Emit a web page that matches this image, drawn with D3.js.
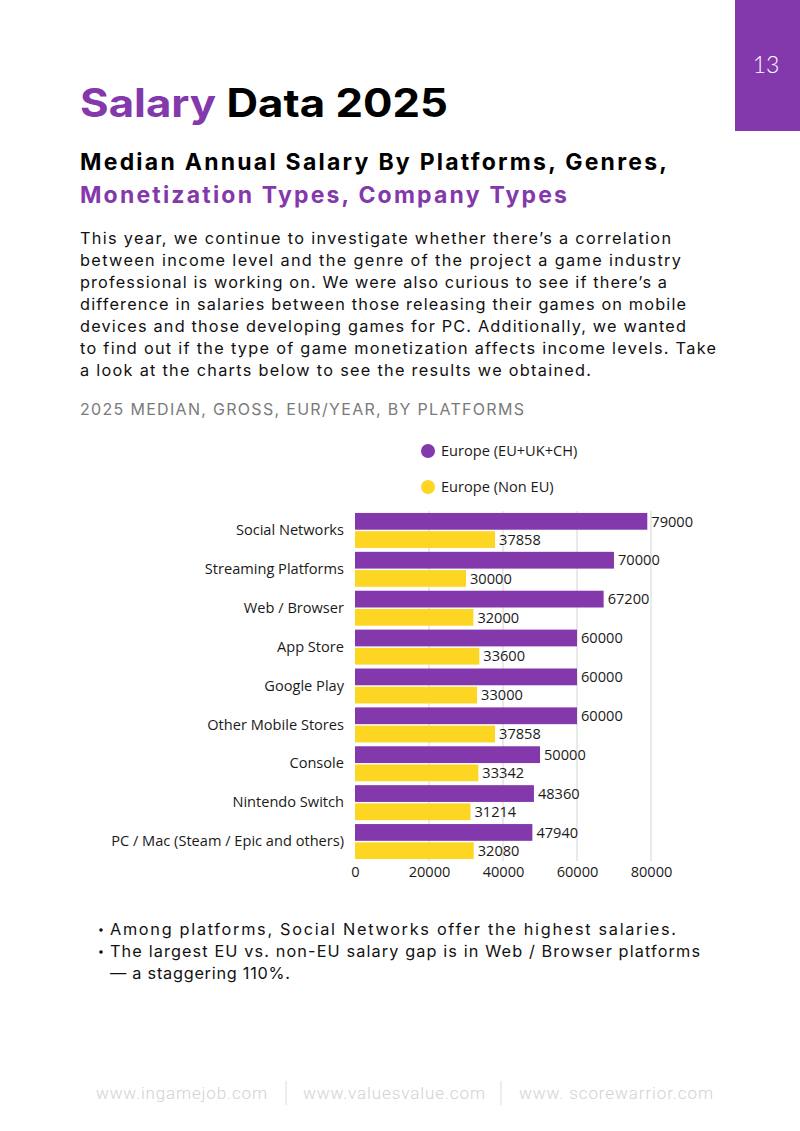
<!DOCTYPE html>
<html><head><meta charset="utf-8">
<script src="https://cdn.jsdelivr.net/npm/d3@7"></script>
<style>
html,body{margin:0;padding:0;background:#fff;}
svg{display:block;}
</style></head>
<body>
<svg id="page" width="800" height="1131"></svg>
<script>
const categories = ["Social Networks","Streaming Platforms","Web / Browser","App Store","Google Play","Other Mobile Stores","Console","Nintendo Switch","PC / Mac (Steam / Epic and others)"];
const seriesNames = ["Europe (EU+UK+CH)","Europe (Non EU)"];
const euValues = [79000,70000,67200,60000,60000,60000,50000,48360,47940];
const nonEuValues = [37858,30000,32000,33600,33000,37858,33342,31214,32080];
const tickValues = [0,20000,40000,60000,80000];

const PURPLE = "#8338ab", YELLOW = "#fdd523";
const CF = 14.6;
const BODY = "Inter", BF = 16.3;
const svg = d3.select("#page");

// page number block
svg.append("rect").attr("x",735).attr("y",0).attr("width",65).attr("height",131).attr("fill",PURPLE);
svg.append("text").attr("x",766).attr("y",73).attr("text-anchor","middle").attr("fill","#fff")
  .attr("font-family","Lato").attr("font-weight",300).attr("font-size",23).text("13");

// title
const t = svg.append("text").attr("x",80).attr("y",117).attr("font-family","Inter").attr("font-weight",700)
  .attr("font-size",39).attr("textLength",368).attr("lengthAdjust","spacingAndGlyphs");
t.append("tspan").attr("fill",PURPLE).text("Salary");
t.append("tspan").attr("fill","#000").text(" Data 2025");

svg.append("text").attr("x",80).attr("y",170).attr("font-family","Inter").attr("font-weight",700)
  .attr("font-size",23).attr("fill","#000").attr("textLength",587).attr("lengthAdjust","spacing")
  .text("Median Annual Salary By Platforms, Genres,");
svg.append("text").attr("x",80).attr("y",203).attr("font-family","Inter").attr("font-weight",700)
  .attr("font-size",23).attr("fill",PURPLE).attr("textLength",487).attr("lengthAdjust","spacing")
  .text("Monetization Types, Company Types");

const para = [
 ["This year, we continue to investigate whether there\u2019s a correlation",591],
 ["between income level and the genre of the project a game industry",601],
 ["professional is working on. We were also curious to see if there\u2019s a",587],
 ["difference in salaries between those releasing their games on mobile",606],
 ["devices and those developing games for PC. Additionally, we wanted",606],
 ["to find out if the type of game monetization affects income levels. Take",636],
 ["a look at the charts below to see the results we obtained.",511]
];
para.forEach((p,i)=>{
  svg.append("text").attr("x",80).attr("y",244+i*22).attr("font-family",BODY).attr("font-size",BF)
    .attr("fill","#111").attr("textLength",p[1]).attr("lengthAdjust","spacing").text(p[0]);
});

svg.append("text").attr("x",80).attr("y",415).attr("font-family",BODY).attr("font-size",16)
  .attr("fill","#7a7a7a").attr("textLength",444).attr("lengthAdjust","spacing")
  .text("2025 MEDIAN, GROSS, EUR/YEAR, BY PLATFORMS");

// chart
const x = d3.scaleLinear().domain([0,80000]).range([355,651]);
const y = d3.scaleBand().domain(categories).range([511,861]).paddingInner(0.1).paddingOuter(0.05);
const sub = d3.scaleBand().domain([0,1]).range([0,y.bandwidth()]).paddingInner(0.08);
const colors = [PURPLE, YELLOW];
const series = [euValues, nonEuValues];

// grid
svg.append("g").selectAll("line").data(tickValues.slice(1)).join("line")
  .attr("x1",d=>x(d)).attr("x2",d=>x(d)).attr("y1",y.range()[0]).attr("y2",y.range()[1])
  .attr("stroke","#d4d4d4").attr("stroke-width",1);

// bars
series.forEach((vals,s)=>{
  const g = svg.append("g");
  g.selectAll("rect").data(vals).join("rect")
    .attr("x",x(0)).attr("y",(d,i)=>y(categories[i])+sub(s))
    .attr("width",d=>x(d)-x(0)).attr("height",sub.bandwidth()).attr("fill",colors[s]);
  g.selectAll("text").data(vals).join("text")
    .attr("x",d=>x(d)+4).attr("y",(d,i)=>y(categories[i])+sub(s)+sub.bandwidth()/2)
    .attr("dy","0.36em").attr("font-family","Open Sans").attr("font-size",CF).attr("fill","#1a1a1a")
    .text(d=>d);
});

// y labels
const yAxis = d3.axisLeft(y).tickSize(0).tickPadding(11);
const ya = svg.append("g").attr("transform",`translate(${x(0)},0)`).call(yAxis);
ya.select(".domain").remove();
ya.selectAll("text").attr("font-family","Open Sans").attr("font-size",CF).attr("fill","#1a1a1a");

// x axis
const xAxis = d3.axisBottom(x).tickValues(tickValues).tickSize(0).tickPadding(6).tickFormat(d3.format("d"));
const xa = svg.append("g").attr("transform",`translate(0,${y.range()[1]})`).call(xAxis);
xa.select(".domain").remove();
xa.selectAll("text").attr("font-family","Open Sans").attr("font-size",CF).attr("fill","#1a1a1a");

// legend
seriesNames.forEach((n,i)=>{
  svg.append("circle").attr("cx",428).attr("cy",451+i*36).attr("r",7).attr("fill",colors[i]);
  svg.append("text").attr("x",441).attr("y",451+i*36).attr("dy","0.36em").attr("font-family","Open Sans")
    .attr("font-size",CF).attr("fill","#1a1a1a").text(n);
});

// bullets
const bullets = [
 [true,"Among platforms, Social Networks offer the highest salaries.",566,935],
 [true,"The largest EU vs. non-EU salary gap is in Web / Browser platforms",590,957],
 [false,"\u2014 a staggering 110%.",180,979]
];
bullets.forEach(b=>{
  if(b[0]) svg.append("circle").attr("cx",101).attr("cy",b[3]-5).attr("r",1.8).attr("fill","#111");
  svg.append("text").attr("x",110).attr("y",b[3]).attr("font-family",BODY).attr("font-size",BF)
    .attr("fill","#111").attr("textLength",b[2]).attr("lengthAdjust","spacing").text(b[1]);
});

// footer
const footer = [["www.ingamejob.com",96,171],["www.valuesvalue.com",303,182],["www. scorewarrior.com",519,194]];
footer.forEach(f=>{
  svg.append("text").attr("x",f[1]).attr("y",1099).attr("font-family","Roboto").attr("font-weight",300)
    .attr("font-size",17).attr("fill","#d2d2d2").attr("textLength",f[2]).attr("lengthAdjust","spacing").text(f[0]);
});
[286,501].forEach(xx=>{
  svg.append("line").attr("x1",xx).attr("x2",xx).attr("y1",1081).attr("y2",1105).attr("stroke","#dcdcdc").attr("stroke-width",1);
});
</script>
</body></html>
